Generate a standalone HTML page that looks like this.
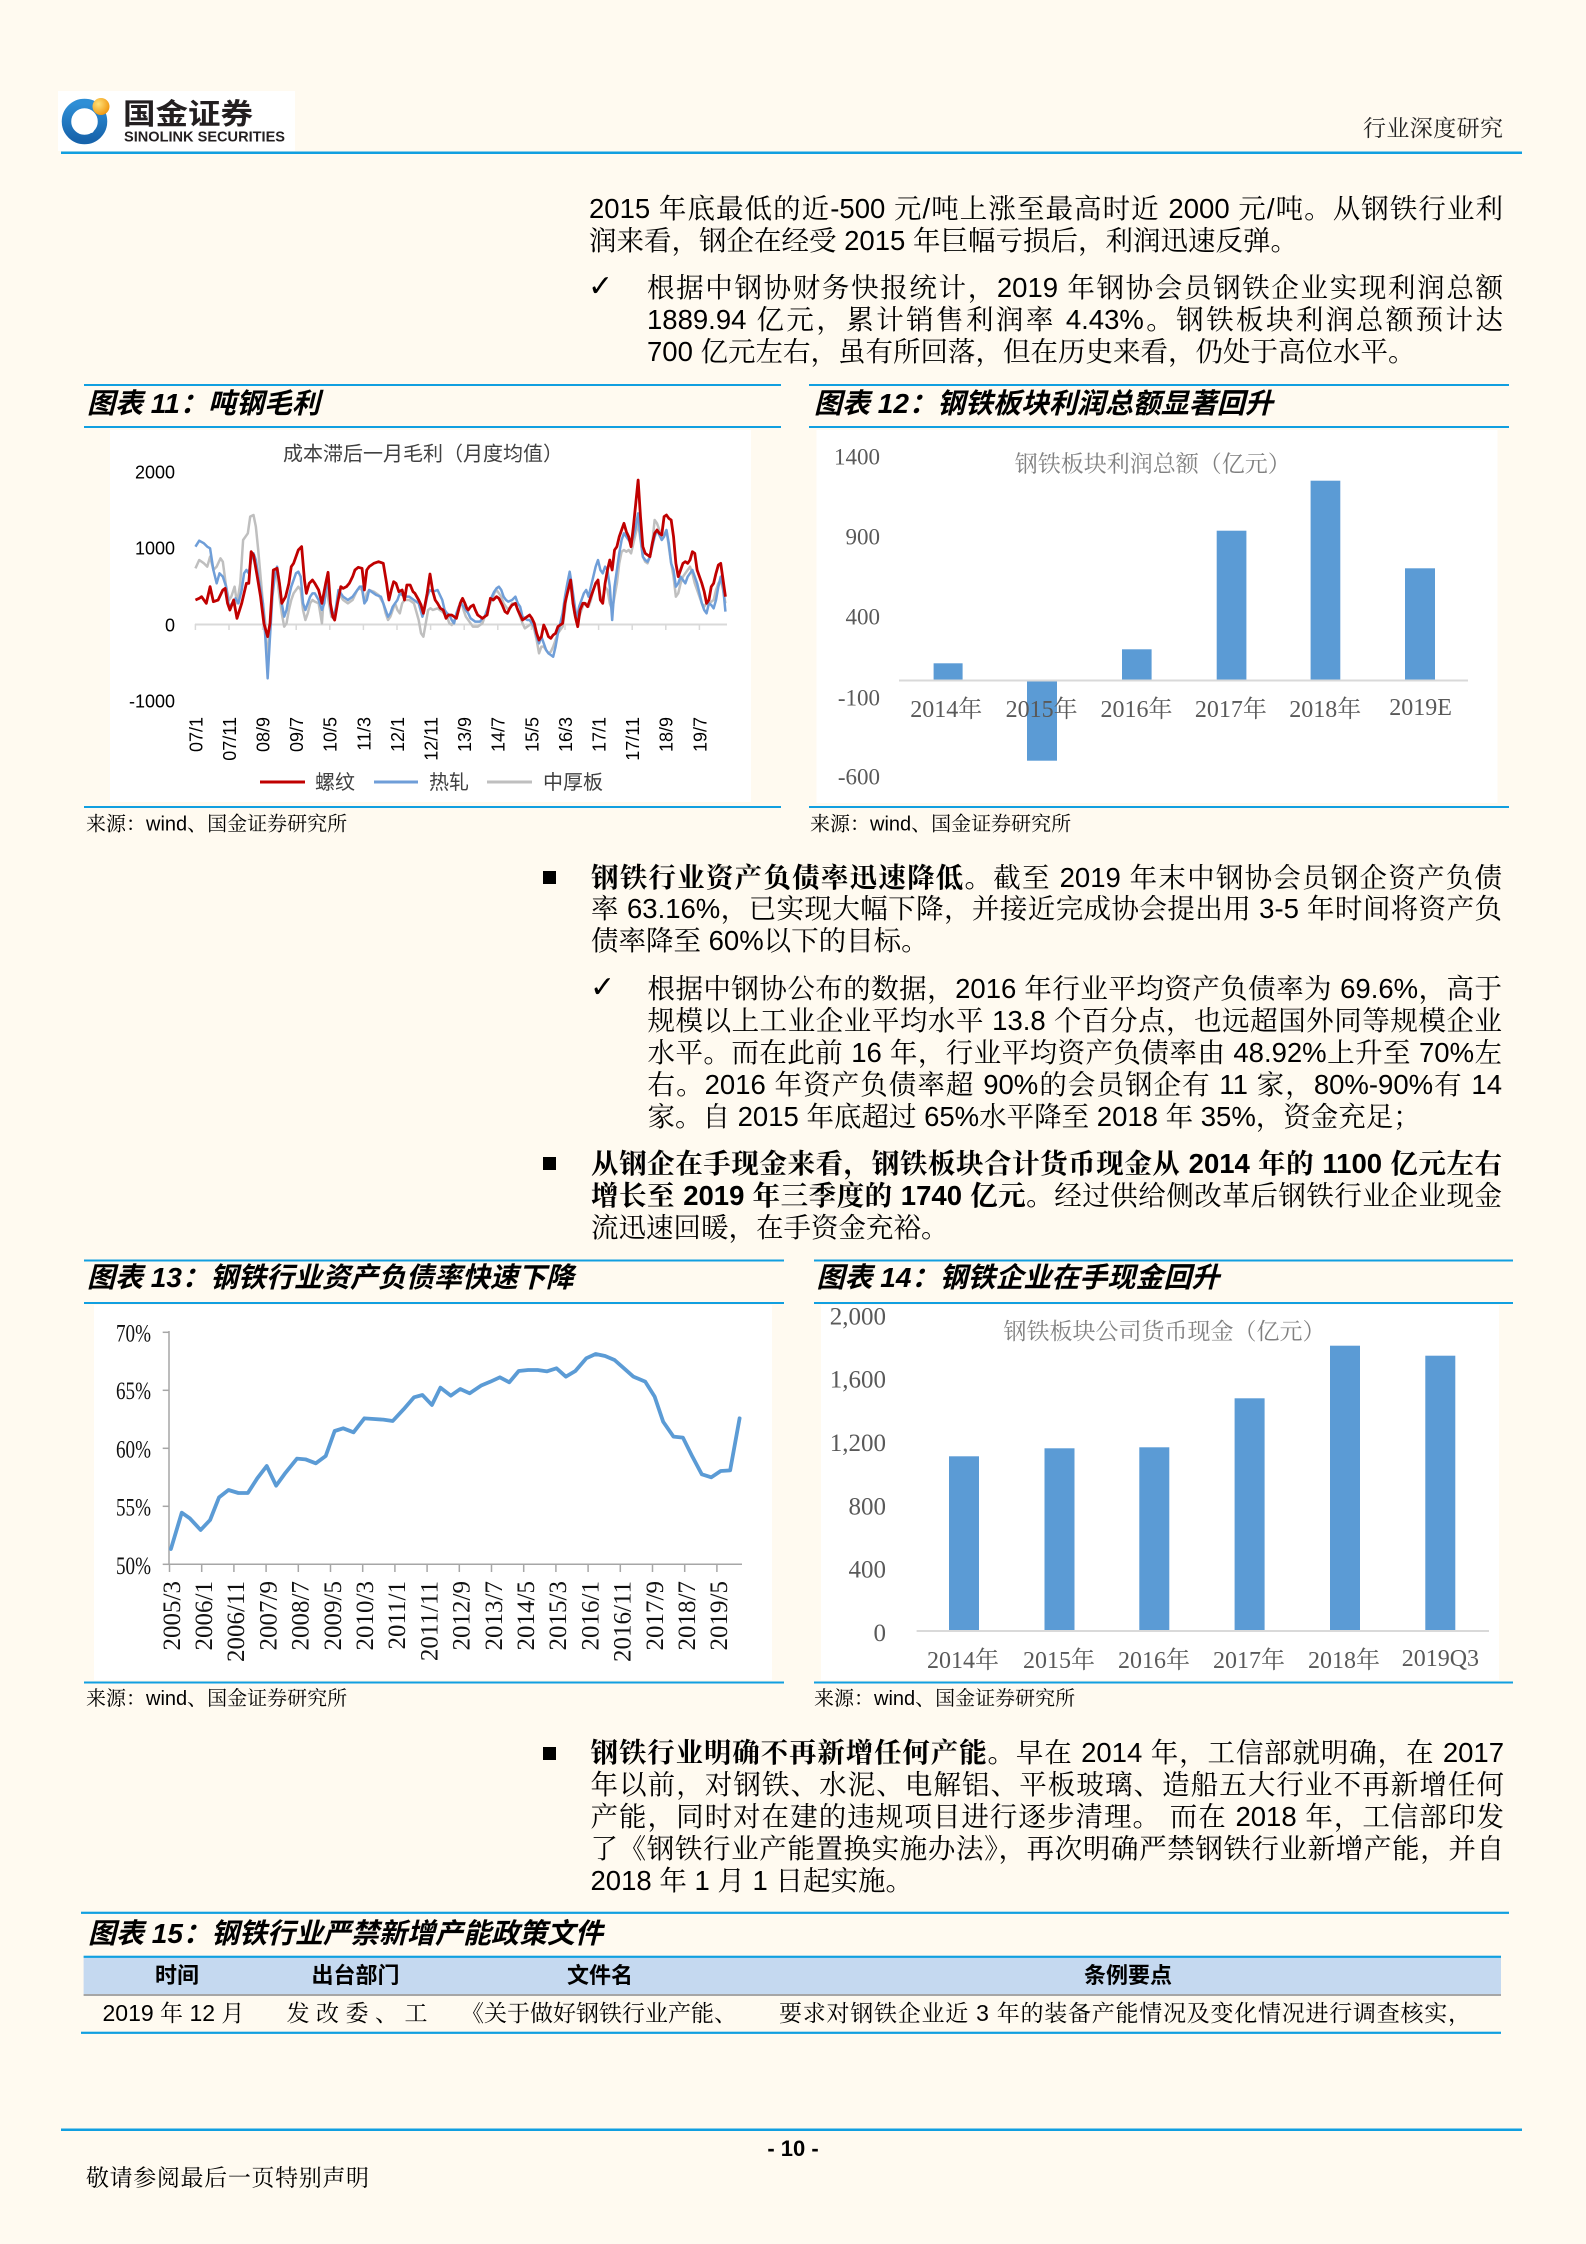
<!DOCTYPE html>
<html><head><meta charset="utf-8">
<style>
html,body{margin:0;padding:0;}
#pg{position:relative;width:1586px;height:2244px;background:#fffaf0;overflow:hidden;}
.ln{position:absolute;font-size:27.5px;line-height:32px;height:32px;white-space:nowrap;font-family:"Liberation Sans","Noto Serif CJK SC",serif;color:#000;}
.j{text-align:justify;text-align-last:justify;}
.ln b{font-weight:bold;}
.sq{position:absolute;width:13px;height:13px;background:#000;}
svg text{white-space:pre;}
</style></head>
<body><div id="pg">

<svg style="position:absolute;left:0;top:0" width="1586" height="2244" viewBox="0 0 1586 2244" xmlns="http://www.w3.org/2000/svg">
<defs>
<radialGradient id="ball" cx="0.35" cy="0.35" r="0.7"><stop offset="0" stop-color="#ffe27a"/><stop offset="1" stop-color="#f0960e"/></radialGradient>
<linearGradient id="ring" x1="0" y1="0" x2="0" y2="1"><stop offset="0" stop-color="#2f8fd6"/><stop offset="1" stop-color="#1764ac"/></linearGradient>
</defs>

<rect x="58" y="91" width="237" height="60" fill="#ffffff"/>
<circle cx="84.5" cy="121.5" r="18" fill="none" stroke="url(#ring)" stroke-width="9.5"/>
<rect x="77" y="112" width="17" height="21" rx="3" fill="#ffffff"/>
<circle cx="101" cy="106.5" r="8.5" fill="url(#ball)"/>
<text x="123" y="124" font-family="Noto Sans CJK SC,sans-serif" font-weight="bold" font-size="29" fill="#231f20" textLength="130" lengthAdjust="spacingAndGlyphs">国金证券</text>
<text x="124" y="141.3" font-family="Liberation Sans,sans-serif" font-weight="bold" font-size="15" fill="#231f20" textLength="161" lengthAdjust="spacingAndGlyphs">SINOLINK SECURITIES</text>
<text x="1363" y="136" font-family="Liberation Serif,Noto Serif CJK SC,serif" font-size="23" fill="#222" textLength="140">行业深度研究</text>
<rect x="61" y="151.5" width="1461" height="2.5" fill="#119fe0"/>

<!-- Chart 11 -->
<rect x="84" y="384" width="697" height="2" fill="#119fe0"/>
<text x="87" y="413" font-family="Liberation Sans,Noto Sans CJK SC,sans-serif" font-weight="bold" font-style="italic" font-size="28" fill="#000">图表 11：吨钢毛利</text>
<rect x="84" y="426" width="697" height="2" fill="#119fe0"/>
<rect x="110" y="430" width="641" height="372" fill="#ffffff"/>
<rect x="84" y="806" width="697" height="2" fill="#119fe0"/>
<text x="86" y="830.7" font-family="Liberation Sans,Noto Serif CJK SC,serif" font-size="20" fill="#000">来源：wind、国金证券研究所</text>

<text x="423" y="460.7" text-anchor="middle" font-family="Liberation Sans,Noto Sans CJK SC,sans-serif" font-size="20" fill="#404040">成本滞后一月毛利（月度均值）</text>
<g font-family="Liberation Sans,sans-serif" font-size="18" fill="#000" text-anchor="end">
<text x="175" y="478.5">2000</text>
<text x="175" y="554.5">1000</text>
<text x="175" y="631.5">0</text>
<text x="175" y="707.5">-1000</text>
</g>
<line x1="195" y1="624.5" x2="727" y2="624.5" stroke="#d9d9d9" stroke-width="2"/>
<g stroke="#d9d9d9" stroke-width="1.5">
<line x1="195.4" y1="624" x2="195.4" y2="630"/><line x1="229" y1="624" x2="229" y2="630"/><line x1="262.6" y1="624" x2="262.6" y2="630"/><line x1="296.2" y1="624" x2="296.2" y2="630"/><line x1="329.8" y1="624" x2="329.8" y2="630"/><line x1="363.4" y1="624" x2="363.4" y2="630"/><line x1="397" y1="624" x2="397" y2="630"/><line x1="430.6" y1="624" x2="430.6" y2="630"/><line x1="464.2" y1="624" x2="464.2" y2="630"/><line x1="497.8" y1="624" x2="497.8" y2="630"/><line x1="531.4" y1="624" x2="531.4" y2="630"/><line x1="565" y1="624" x2="565" y2="630"/><line x1="598.6" y1="624" x2="598.6" y2="630"/><line x1="632.2" y1="624" x2="632.2" y2="630"/><line x1="665.8" y1="624" x2="665.8" y2="630"/><line x1="699.4" y1="624" x2="699.4" y2="630"/>
</g>
<g font-family="Liberation Sans,sans-serif" font-size="18" fill="#000" text-anchor="end">
<text transform="translate(196,717) rotate(-90)" dy="0.35em">07/1</text>
<text transform="translate(229.6,717) rotate(-90)" dy="0.35em">07/11</text>
<text transform="translate(263.2,717) rotate(-90)" dy="0.35em">08/9</text>
<text transform="translate(296.8,717) rotate(-90)" dy="0.35em">09/7</text>
<text transform="translate(330.4,717) rotate(-90)" dy="0.35em">10/5</text>
<text transform="translate(364,717) rotate(-90)" dy="0.35em">11/3</text>
<text transform="translate(397.6,717) rotate(-90)" dy="0.35em">12/1</text>
<text transform="translate(431.2,717) rotate(-90)" dy="0.35em">12/11</text>
<text transform="translate(464.8,717) rotate(-90)" dy="0.35em">13/9</text>
<text transform="translate(498.4,717) rotate(-90)" dy="0.35em">14/7</text>
<text transform="translate(532,717) rotate(-90)" dy="0.35em">15/5</text>
<text transform="translate(565.6,717) rotate(-90)" dy="0.35em">16/3</text>
<text transform="translate(599.2,717) rotate(-90)" dy="0.35em">17/1</text>
<text transform="translate(632.8,717) rotate(-90)" dy="0.35em">17/11</text>
<text transform="translate(666.4,717) rotate(-90)" dy="0.35em">18/9</text>
<text transform="translate(700,717) rotate(-90)" dy="0.35em">19/7</text>
</g>
<svg x="60" y="370" width="740" height="470" viewBox="0 0 1568 1410" preserveAspectRatio="none">
<polyline fill="none" stroke="#bfbfbf" stroke-width="2.5" vector-effect="non-scaling-stroke" stroke-linejoin="round" points="287,595 295,570 305,580 312,590 318,560 325,600 332,590 340,565 345,575 352,650 358,690 363,680 370,650 375,700 382,640 388,510 393,500 398,490 403,440 410,435 415,470 420,540 425,620 430,700 435,760 440,880 445,770 450,650 455,600 460,620 465,680 470,730 475,770 480,760 485,720 490,690 495,670 500,660 505,650 510,660 515,720 520,750 525,730 530,700 535,690 540,695 548,700 555,760 560,660 565,660 570,700 575,740 580,745 585,720 590,670 595,680 600,690 610,700 620,690 625,675 630,660 635,655 640,660 645,700 650,670 655,660 665,665 675,675 685,700 690,730 695,750 700,740 705,720 710,700 715,720 720,730 725,700 730,690 740,690 750,700 760,750 765,790 770,800 775,760 780,720 785,715 790,720 800,715 810,725 820,740 825,760 830,765 840,740 845,720 850,690 855,720 860,740 870,760 875,770 885,770 895,760 900,740 905,720 915,690 920,670 925,660 930,670 935,680 940,700 945,710 950,720 958,700 965,700 970,720 975,740 980,760 985,775 990,770 995,765 1000,760 1005,780 1010,810 1015,850 1020,830 1025,830 1030,840 1035,850 1040,845 1045,830 1050,810 1055,790 1060,780 1065,770 1070,720 1075,650 1080,630 1085,680 1090,730 1095,760 1100,740 1105,720 1110,700 1115,700 1120,710 1125,690 1130,660 1135,640 1140,630 1145,680 1150,690 1155,650 1160,660 1165,700 1170,720 1175,680 1180,640 1185,580 1190,545 1195,540 1200,545 1205,540 1210,550 1215,520 1220,490 1225,460 1230,510 1235,560 1240,575 1245,580 1250,560 1255,520 1260,450 1265,460 1270,480 1275,500 1280,495 1285,480 1290,530 1295,580 1300,620 1305,680 1310,670 1315,640 1320,620 1325,610 1330,600 1335,590 1340,610 1345,640 1350,660 1355,680 1360,700 1365,710 1370,700 1375,700 1380,695 1385,690 1390,660 1395,640 1400,630 1405,660 1410,700"/>
<polyline fill="none" stroke="#6f9ed8" stroke-width="2.5" vector-effect="non-scaling-stroke" stroke-linejoin="round" points="287,530 295,512 305,520 312,530 318,535 325,600 332,640 338,610 345,620 352,650 358,710 365,700 372,685 378,700 385,660 390,610 395,600 400,610 405,570 410,550 415,570 420,620 425,660 430,700 435,800 440,925 445,800 450,680 455,620 460,590 465,640 470,700 475,740 480,720 485,680 490,650 495,630 500,610 505,605 510,620 515,700 520,720 525,700 530,680 535,670 540,670 548,690 555,720 560,700 565,640 570,660 575,730 580,740 585,710 590,660 595,670 600,680 610,690 620,680 625,670 630,660 635,650 640,650 645,700 650,690 655,660 660,665 665,670 670,675 680,680 685,700 690,720 695,740 700,730 705,710 710,700 715,690 720,670 725,675 730,680 740,680 750,690 760,700 768,740 772,720 778,680 783,660 790,665 800,660 805,675 810,690 815,720 820,730 825,735 830,750 835,760 840,730 845,710 850,700 855,710 860,720 865,730 870,745 875,750 880,755 890,755 895,745 900,740 905,720 910,700 915,680 920,665 925,655 930,650 935,660 940,680 945,690 950,695 958,690 965,680 970,700 975,710 980,740 985,745 990,750 995,750 1000,760 1005,770 1010,800 1015,820 1020,800 1025,820 1030,840 1035,850 1040,855 1045,860 1050,830 1055,790 1060,760 1065,730 1070,680 1075,640 1080,605 1085,650 1090,700 1095,750 1100,710 1105,690 1110,670 1115,660 1120,680 1125,650 1130,620 1135,590 1140,570 1145,600 1150,610 1155,590 1160,600 1165,650 1170,750 1175,650 1180,600 1185,550 1190,510 1195,490 1200,500 1205,510 1210,520 1215,500 1220,470 1225,430 1230,500 1235,560 1240,570 1245,575 1250,560 1255,530 1260,500 1265,480 1270,495 1275,510 1280,500 1285,480 1290,520 1295,580 1300,600 1305,650 1310,640 1315,620 1320,630 1325,640 1330,620 1335,610 1340,600 1345,620 1350,640 1355,670 1360,700 1365,720 1370,730 1375,700 1380,705 1385,715 1390,690 1395,650 1400,620 1405,650 1410,725"/>
<polyline fill="none" stroke="#c00000" stroke-width="2.8" vector-effect="non-scaling-stroke" stroke-linejoin="round" points="287,690 295,685 300,680 310,700 318,650 325,695 335,690 345,660 350,655 355,700 360,720 368,690 375,745 385,700 395,640 400,640 405,545 410,555 418,620 425,680 432,760 440,800 445,760 452,600 460,595 465,640 470,700 478,680 485,640 490,590 495,580 505,540 512,530 518,630 522,670 528,640 535,630 540,640 548,660 555,700 563,640 568,607 573,700 578,740 582,750 588,700 595,650 600,655 607,650 613,640 620,620 625,600 632,592 640,595 645,660 650,600 655,590 665,580 675,575 685,580 692,640 697,690 702,660 707,635 712,640 718,665 725,660 730,690 735,645 742,645 748,665 752,670 760,690 765,705 770,730 778,670 784,612 790,665 795,690 800,700 806,715 812,720 818,745 823,735 830,735 835,740 840,745 848,700 853,685 858,700 862,715 865,720 870,710 876,705 880,720 885,735 890,740 895,745 900,740 905,735 912,685 918,690 925,680 930,685 937,705 943,725 948,730 953,715 958,705 965,700 970,720 975,735 980,750 985,745 990,740 995,735 1000,745 1005,760 1010,790 1015,810 1020,800 1025,765 1030,780 1035,800 1040,805 1045,795 1050,790 1055,770 1060,765 1065,760 1070,700 1075,670 1082,630 1087,700 1092,740 1097,770 1102,720 1108,700 1112,700 1118,710 1125,680 1130,660 1135,640 1140,630 1145,690 1150,700 1155,640 1160,600 1165,570 1170,600 1175,540 1180,530 1185,500 1190,480 1195,460 1200,485 1205,500 1210,530 1215,470 1220,400 1225,330 1230,440 1235,530 1240,550 1245,555 1250,560 1255,520 1260,490 1265,480 1270,490 1275,495 1280,440 1285,435 1290,445 1295,450 1300,500 1305,580 1310,620 1315,600 1320,580 1325,575 1330,580 1335,570 1340,545 1345,550 1350,600 1355,620 1360,640 1365,665 1370,700 1375,690 1380,650 1385,640 1390,610 1395,585 1400,580 1405,630 1410,680"/>
</svg>
<line x1="260" y1="782" x2="305" y2="782" stroke="#c00000" stroke-width="3"/>
<line x1="374" y1="782" x2="418" y2="782" stroke="#6f9ed8" stroke-width="3"/>
<line x1="487" y1="782" x2="532" y2="782" stroke="#bfbfbf" stroke-width="3"/>
<g font-family="Liberation Sans,Noto Sans CJK SC,sans-serif" font-size="20" fill="#404040">
<text x="315" y="789">螺纹</text>
<text x="429" y="789">热轧</text>
<text x="543" y="789">中厚板</text>
</g>

<!-- Chart 12 -->
<rect x="809" y="384" width="700" height="2" fill="#119fe0"/>
<text x="814" y="413" font-family="Liberation Sans,Noto Sans CJK SC,sans-serif" font-weight="bold" font-style="italic" font-size="28" fill="#000">图表 12：钢铁板块利润总额显著回升</text>
<rect x="809" y="426" width="700" height="2" fill="#119fe0"/>
<rect x="816.5" y="430" width="681" height="373" fill="#ffffff"/>
<rect x="809" y="806" width="700" height="2" fill="#119fe0"/>
<text x="810" y="830.7" font-family="Liberation Sans,Noto Serif CJK SC,serif" font-size="20" fill="#000">来源：wind、国金证券研究所</text>
<text x="1152.7" y="471.3" text-anchor="middle" font-family="Liberation Serif,Noto Serif CJK SC,serif" font-size="23" fill="#808080">钢铁板块利润总额（亿元）</text>
<g font-family="Liberation Serif,serif" font-size="23" fill="#595959" text-anchor="end">
<text x="880" y="464.6">1400</text>
<text x="880" y="544.6">900</text>
<text x="880" y="624.6">400</text>
<text x="880" y="705.6">-100</text>
<text x="880" y="784.6">-600</text>
</g>
<g fill="#5b9bd5">
<rect x="933.6" y="663.3" width="29" height="16.7"/>
<rect x="1027" y="680" width="30" height="80.7"/>
<rect x="1122" y="649.3" width="29.6" height="30.7"/>
<rect x="1216.7" y="530.7" width="29.7" height="149.3"/>
<rect x="1310.6" y="480.7" width="29.7" height="199.3"/>
<rect x="1405" y="568.3" width="30" height="111.7"/>
</g>
<line x1="899" y1="680.5" x2="1468" y2="680.5" stroke="#d9d9d9" stroke-width="2"/>
<g font-family="Liberation Serif,Noto Serif CJK SC,serif" font-size="24" fill="#595959" text-anchor="middle">
<text x="946.3" y="717">2014年</text>
<text x="1041.6" y="717">2015年</text>
<text x="1136.5" y="717">2016年</text>
<text x="1230.9" y="717">2017年</text>
<text x="1325.2" y="717">2018年</text>
<text x="1420.6" y="715">2019E</text>
</g>

<!-- Chart 13 -->
<rect x="84" y="1259.5" width="700" height="2" fill="#119fe0"/>
<text x="87" y="1287" font-family="Liberation Sans,Noto Sans CJK SC,sans-serif" font-weight="bold" font-style="italic" font-size="28" fill="#000">图表 13：钢铁行业资产负债率快速下降</text>
<rect x="84" y="1302" width="700" height="2" fill="#119fe0"/>
<rect x="94" y="1305" width="678" height="375" fill="#ffffff"/>
<rect x="84" y="1681.5" width="700" height="2" fill="#119fe0"/>
<text x="86" y="1705" font-family="Liberation Sans,Noto Serif CJK SC,serif" font-size="20" fill="#000">来源：wind、国金证券研究所</text>
<g font-family="Liberation Serif,serif" font-size="25" fill="#111" text-anchor="end">
<text x="151" y="1341.3" textLength="35" lengthAdjust="spacingAndGlyphs">70%</text>
<text x="151" y="1399" textLength="35" lengthAdjust="spacingAndGlyphs">65%</text>
<text x="151" y="1457.3" textLength="35" lengthAdjust="spacingAndGlyphs">60%</text>
<text x="151" y="1515.3" textLength="35" lengthAdjust="spacingAndGlyphs">55%</text>
<text x="151" y="1574" textLength="35" lengthAdjust="spacingAndGlyphs">50%</text>
</g>
<g stroke="#a6a6a6" stroke-width="1.5">
<line x1="169" y1="1331" x2="169" y2="1564.3"/>
<line x1="169" y1="1564.3" x2="742" y2="1564.3"/>
<line x1="162.7" y1="1332.3" x2="169" y2="1332.3"/><line x1="162.7" y1="1390.3" x2="169" y2="1390.3"/><line x1="162.7" y1="1448.3" x2="169" y2="1448.3"/><line x1="162.7" y1="1506.3" x2="169" y2="1506.3"/><line x1="162.7" y1="1564.3" x2="169" y2="1564.3"/>
<line x1="169.5" y1="1564" x2="169.5" y2="1572"/><line x1="201.7" y1="1564" x2="201.7" y2="1572"/><line x1="233.9" y1="1564" x2="233.9" y2="1572"/><line x1="266.1" y1="1564" x2="266.1" y2="1572"/><line x1="298.3" y1="1564" x2="298.3" y2="1572"/><line x1="330.5" y1="1564" x2="330.5" y2="1572"/><line x1="362.7" y1="1564" x2="362.7" y2="1572"/><line x1="394.9" y1="1564" x2="394.9" y2="1572"/><line x1="427.1" y1="1564" x2="427.1" y2="1572"/><line x1="459.3" y1="1564" x2="459.3" y2="1572"/><line x1="491.5" y1="1564" x2="491.5" y2="1572"/><line x1="523.7" y1="1564" x2="523.7" y2="1572"/><line x1="555.9" y1="1564" x2="555.9" y2="1572"/><line x1="588.1" y1="1564" x2="588.1" y2="1572"/><line x1="620.3" y1="1564" x2="620.3" y2="1572"/><line x1="652.5" y1="1564" x2="652.5" y2="1572"/><line x1="684.7" y1="1564" x2="684.7" y2="1572"/><line x1="716.9" y1="1564" x2="716.9" y2="1572"/>
</g>
<g font-family="Liberation Serif,serif" font-size="25" fill="#111" text-anchor="end">
<text transform="translate(171.5,1581) rotate(-90)" dy="0.33em">2005/3</text>
<text transform="translate(203.7,1581) rotate(-90)" dy="0.33em">2006/1</text>
<text transform="translate(235.9,1581) rotate(-90)" dy="0.33em">2006/11</text>
<text transform="translate(268.1,1581) rotate(-90)" dy="0.33em">2007/9</text>
<text transform="translate(300.3,1581) rotate(-90)" dy="0.33em">2008/7</text>
<text transform="translate(332.5,1581) rotate(-90)" dy="0.33em">2009/5</text>
<text transform="translate(364.7,1581) rotate(-90)" dy="0.33em">2010/3</text>
<text transform="translate(396.9,1581) rotate(-90)" dy="0.33em">2011/1</text>
<text transform="translate(429.1,1581) rotate(-90)" dy="0.33em">2011/11</text>
<text transform="translate(461.3,1581) rotate(-90)" dy="0.33em">2012/9</text>
<text transform="translate(493.5,1581) rotate(-90)" dy="0.33em">2013/7</text>
<text transform="translate(525.7,1581) rotate(-90)" dy="0.33em">2014/5</text>
<text transform="translate(557.9,1581) rotate(-90)" dy="0.33em">2015/3</text>
<text transform="translate(590.1,1581) rotate(-90)" dy="0.33em">2016/1</text>
<text transform="translate(622.3,1581) rotate(-90)" dy="0.33em">2016/11</text>
<text transform="translate(654.5,1581) rotate(-90)" dy="0.33em">2017/9</text>
<text transform="translate(686.7,1581) rotate(-90)" dy="0.33em">2018/7</text>
<text transform="translate(718.9,1581) rotate(-90)" dy="0.33em">2019/5</text>
</g>
<svg x="60" y="1245" width="740" height="480" viewBox="0 0 1568 1440" preserveAspectRatio="none">
<polyline fill="none" stroke="#5b9bd5" stroke-width="3.8" vector-effect="non-scaling-stroke" stroke-linejoin="round" stroke-linecap="round" points="235,912 258,803 275,820 298,855 318,825 337,757 357,735 378,744 398,744 418,700 438,663 458,722 478,683 502,641 520,643 542,655 563,633 582,558 600,550 622,562 645,520 665,522 685,524 705,528 728,493 750,457 768,450 788,480 806,428 828,452 848,432 868,445 892,422 912,410 932,397 952,412 972,378 992,375 1012,375 1032,379 1052,370 1072,395 1092,378 1115,340 1135,327 1155,333 1175,345 1195,370 1215,395 1240,410 1260,455 1278,530 1300,575 1320,578 1340,635 1360,688 1380,697 1400,678 1420,676 1440,520"/>
</svg>

<!-- Chart 14 -->
<rect x="814" y="1259.5" width="699" height="2" fill="#119fe0"/>
<text x="816.5" y="1287" font-family="Liberation Sans,Noto Sans CJK SC,sans-serif" font-weight="bold" font-style="italic" font-size="28" fill="#000">图表 14：钢铁企业在手现金回升</text>
<rect x="814" y="1302" width="699" height="2" fill="#119fe0"/>
<rect x="821" y="1305" width="678" height="375" fill="#ffffff"/>
<rect x="814" y="1681.5" width="699" height="2" fill="#119fe0"/>
<text x="814" y="1705" font-family="Liberation Sans,Noto Serif CJK SC,serif" font-size="20" fill="#000">来源：wind、国金证券研究所</text>
<text x="1164.5" y="1339" text-anchor="middle" font-family="Liberation Serif,Noto Serif CJK SC,serif" font-size="23" fill="#808080">钢铁板块公司货币现金（亿元）</text>
<g font-family="Liberation Serif,serif" font-size="25" fill="#595959" text-anchor="end">
<text x="886" y="1324.3">2,000</text>
<text x="886" y="1387.3">1,600</text>
<text x="886" y="1451">1,200</text>
<text x="886" y="1514.3">800</text>
<text x="886" y="1577.3">400</text>
<text x="886" y="1641">0</text>
</g>
<g fill="#5b9bd5">
<rect x="949" y="1456.3" width="30" height="174.4"/>
<rect x="1044.5" y="1448.3" width="30" height="182.4"/>
<rect x="1139.3" y="1447.3" width="30" height="183.4"/>
<rect x="1234.6" y="1398.3" width="30" height="232.4"/>
<rect x="1330" y="1345.7" width="30" height="285"/>
<rect x="1425.3" y="1355.7" width="30" height="275"/>
</g>
<line x1="916.6" y1="1631" x2="1489" y2="1631" stroke="#d9d9d9" stroke-width="2"/>
<g font-family="Liberation Serif,Noto Serif CJK SC,serif" font-size="24" fill="#595959" text-anchor="middle">
<text x="963" y="1668">2014年</text>
<text x="1059" y="1668">2015年</text>
<text x="1154" y="1668">2016年</text>
<text x="1249" y="1668">2017年</text>
<text x="1344" y="1668">2018年</text>
<text x="1440.4" y="1666">2019Q3</text>
</g>

<!-- Table 15 -->
<rect x="81" y="1911.7" width="1428" height="2.2" fill="#119fe0"/>
<text x="88" y="1943" font-family="Liberation Sans,Noto Sans CJK SC,sans-serif" font-weight="bold" font-style="italic" font-size="28" fill="#000">图表 15：钢铁行业严禁新增产能政策文件</text>
<rect x="83.6" y="1955.7" width="1417.4" height="2.2" fill="#119fe0"/>
<rect x="83.6" y="1958" width="1417.4" height="36.5" fill="#c5d9f0"/>
<rect x="83.6" y="1994" width="1417.4" height="2" fill="#a6a6a6"/>
<g font-family="Liberation Sans,Noto Sans CJK SC,sans-serif" font-weight="bold" font-size="22" fill="#000" text-anchor="middle">
<text x="177" y="1983">时间</text>
<text x="355.5" y="1983">出台部门</text>
<text x="600" y="1983">文件名</text>
<text x="1128" y="1983">条例要点</text>
</g>
<g font-family="Liberation Sans,Noto Serif CJK SC,serif" font-size="23" fill="#000">
<text x="102.5" y="2021">2019 年 12 月</text>
<text x="286.5" y="2021" textLength="141" lengthAdjust="spacing">发改委、工</text>
<text x="461" y="2021">《关于做好钢铁行业产能、</text>
<text x="779" y="2021" textLength="692" lengthAdjust="spacing">要求对钢铁企业近 3 年的装备产能情况及变化情况进行调查核实，</text>
</g>
<rect x="81" y="2031.7" width="1420" height="2.2" fill="#119fe0"/>

<g font-family="DejaVu Sans,sans-serif" font-size="30" fill="#000">
<text x="588" y="296">✓</text>
<text x="590" y="997">✓</text>
</g>

<rect x="61" y="2128.5" width="1461" height="2.5" fill="#119fe0"/>
<text x="793" y="2156" text-anchor="middle" font-family="Liberation Sans,sans-serif" font-weight="bold" font-size="22" fill="#000">- 10 -</text>
<text x="86" y="2185.3" font-family="Liberation Serif,Noto Serif CJK SC,serif" font-size="23" fill="#000" textLength="283">敬请参阅最后一页特别声明</text>
</svg>

<div class="ln j" style="left:589px;top:193px;width:914px;">2015 年底最低的近-500 元/吨上涨至最高时近 2000 元/吨。从钢铁行业利</div>
<div class="ln" style="left:589px;top:225px;">润来看，钢企在经受 2015 年巨幅亏损后，利润迅速反弹。</div>

<div class="ln j" style="left:647px;top:272px;width:856px;">根据中钢协财务快报统计，2019 年钢协会员钢铁企业实现利润总额</div>
<div class="ln j" style="left:647px;top:304px;width:856px;">1889.94 亿元，累计销售利润率 4.43%。钢铁板块利润总额预计达</div>
<div class="ln" style="left:647px;top:336px;">700 亿元左右，虽有所回落，但在历史来看，仍处于高位水平。</div>

<div class="sq" style="left:543px;top:871px;"></div>
<div class="ln j" style="left:591px;top:862px;width:911px;"><b>钢铁行业资产负债率迅速降低。</b>截至 2019 年末中钢协会员钢企资产负债</div>
<div class="ln j" style="left:591px;top:893px;width:911px;">率 63.16%，已实现大幅下降，并接近完成协会提出用 3-5 年时间将资产负</div>
<div class="ln" style="left:591px;top:925px;">债率降至 60%以下的目标。</div>

<div class="ln j" style="left:647.5px;top:973px;width:854.5px;">根据中钢协公布的数据，2016 年行业平均资产负债率为 69.6%，高于</div>
<div class="ln j" style="left:647.5px;top:1005px;width:854.5px;">规模以上工业企业平均水平 13.8 个百分点，也远超国外同等规模企业</div>
<div class="ln j" style="left:647.5px;top:1037px;width:854.5px;">水平。而在此前 16 年，行业平均资产负债率由 48.92%上升至 70%左</div>
<div class="ln j" style="left:647.5px;top:1069px;width:854.5px;">右。2016 年资产负债率超 90%的会员钢企有 11 家，80%-90%有 14</div>
<div class="ln" style="left:647.5px;top:1101px;">家。自 2015 年底超过 65%水平降至 2018 年 35%，资金充足；</div>

<div class="sq" style="left:543px;top:1157px;"></div>
<div class="ln j" style="left:591px;top:1148px;width:911px;"><b>从钢企在手现金来看，钢铁板块合计货币现金从 2014 年的 1100 亿元左右</b></div>
<div class="ln j" style="left:591px;top:1180px;width:911px;"><b>增长至 2019 年三季度的 1740 亿元。</b>经过供给侧改革后钢铁行业企业现金</div>
<div class="ln" style="left:591px;top:1212px;">流迅速回暖，在手资金充裕。</div>

<div class="sq" style="left:543px;top:1747px;"></div>
<div class="ln j" style="left:590.5px;top:1737px;width:913.5px;"><b>钢铁行业明确不再新增任何产能。</b>早在 2014 年，工信部就明确，在 2017</div>
<div class="ln j" style="left:590.5px;top:1769px;width:913.5px;">年以前，对钢铁、水泥、电解铝、平板玻璃、造船五大行业不再新增任何</div>
<div class="ln j" style="left:590.5px;top:1801px;width:913.5px;">产能，同时对在建的违规项目进行逐步清理。 而在 2018 年，工信部印发</div>
<div class="ln j" style="left:590.5px;top:1833px;width:913.5px;">了《钢铁行业产能置换实施办法》，再次明确严禁钢铁行业新增产能，并自</div>
<div class="ln" style="left:590.5px;top:1865px;">2018 年 1 月 1 日起实施。</div>

</div></body></html>
